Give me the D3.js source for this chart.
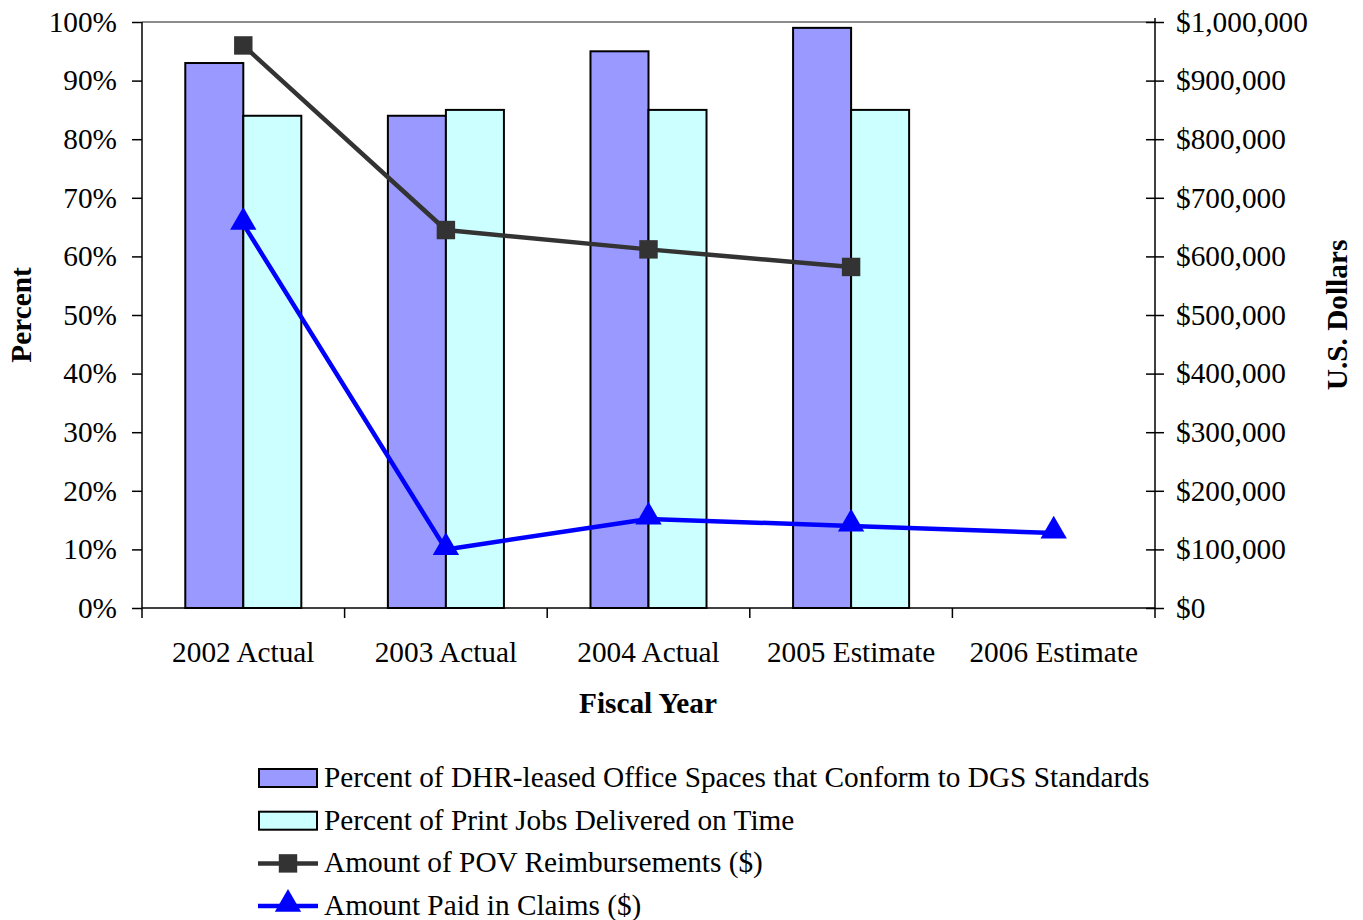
<!DOCTYPE html>
<html>
<head>
<meta charset="utf-8">
<script src="https://cdn.jsdelivr.net/npm/d3@7"></script>
<style>
  html, body { margin: 0; padding: 0; background: #fff; }
  svg { display: block; }
  svg text { font-family: "Liberation Serif", "Times New Roman", serif; }
</style>
</head>
<body>
<svg id="chart" width="1363" height="920"></svg>
<script>
// Fiscal years on the category axis
const categories = ["2002 Actual", "2003 Actual", "2004 Actual", "2005 Estimate", "2006 Estimate"];

// Percent series (left axis); null = no bar
const officeSpaces = [93, 84, 95, 99, null];
const printJobs = [84, 85, 85, 85, null];

// Dollar series (right axis); null = no point
const povReimbursements = [960000, 645000, 612000, 582000, null];
const claimsPaid = [655000, 100000, 152000, 140000, 128000];

const percentTicks = [0, 10, 20, 30, 40, 50, 60, 70, 80, 90, 100];
const dollarTicks = [0, 100000, 200000, 300000, 400000, 500000, 600000, 700000, 800000, 900000, 1000000];

const seriesNames = [
  "Percent of DHR-leased Office Spaces that Conform to DGS Standards",
  "Percent of Print Jobs Delivered on Time",
  "Amount of POV Reimbursements ($)",
  "Amount Paid in Claims ($)"
];

const colors = { office: "#9999FF", print: "#CCFFFF", pov: "#333333", claims: "#0000FF" };
const FS = 29.3;

const svg = d3.select("#chart");
const plot = { left: 142, right: 1155, top: 22, bottom: 608 };

const x = d3.scaleBand().domain(categories).range([plot.left, plot.right]);
const yPct = d3.scaleLinear().domain([0, 100]).range([plot.bottom, plot.top]);
const yUsd = d3.scaleLinear().domain([0, 1000000]).range([plot.bottom, plot.top]);

// Inner band for the two bars of each group
const inner = d3.scaleBand().domain(["office", "print"])
  .range([0, x.bandwidth()]).paddingOuter(0.746);

// Top border of the plot area
svg.append("line")
  .attr("x1", plot.left).attr("x2", plot.right)
  .attr("y1", plot.top).attr("y2", plot.top)
  .attr("stroke", "#8c8c8c").attr("stroke-width", 2);

// Bars
const barSeries = [
  { key: "office", values: officeSpaces },
  { key: "print", values: printJobs }
];
barSeries.forEach(s => {
  svg.append("g").selectAll("rect")
    .data(categories.map((c, i) => ({ c, v: s.values[i] })).filter(d => d.v != null))
    .join("rect")
    .attr("x", d => x(d.c) + inner(s.key))
    .attr("width", inner.bandwidth())
    .attr("y", d => yPct(d.v))
    .attr("height", d => yPct(0) - yPct(d.v))
    .attr("fill", colors[s.key])
    .attr("stroke", "#000").attr("stroke-width", 2);
});

const fmtPct = d => d + "%";
const fmtUsd = d => "$" + d3.format(",")(d);

// Left axis
const gL = svg.append("g").attr("transform", `translate(${plot.left},0)`)
  .call(d3.axisLeft(yPct).tickValues(percentTicks).tickFormat(fmtPct).tickSize(10).tickPadding(15).tickSizeOuter(0));
gL.attr("font-family", null);
gL.select(".domain").remove();
gL.append("line").attr("x1", 0).attr("x2", 0).attr("y1", plot.top).attr("y2", plot.bottom + 10)
  .attr("stroke", "#000").attr("stroke-width", 1.5);
gL.selectAll(".tick line").attr("stroke", "#000").attr("stroke-width", 1.5);
gL.selectAll(".tick text").attr("font-size", FS).attr("fill", "#000");

// Right axis (ticks cross the axis line)
const gR = svg.append("g").attr("transform", `translate(${plot.right},0)`)
  .call(d3.axisRight(yUsd).tickValues(dollarTicks).tickFormat(fmtUsd).tickSize(9).tickPadding(12).tickSizeOuter(0));
gR.attr("font-family", null);
gR.select(".domain").remove();
gR.append("line").attr("x1", 0).attr("x2", 0).attr("y1", plot.top - 4).attr("y2", plot.bottom + 10)
  .attr("stroke", "#000").attr("stroke-width", 1.5);
gR.selectAll(".tick line").attr("x1", -9).attr("stroke", "#000").attr("stroke-width", 1.5);
gR.selectAll(".tick text").attr("font-size", FS).attr("fill", "#000");

// Bottom axis: ticks at band boundaries
const gB = svg.append("g").attr("transform", `translate(0,${plot.bottom})`);
gB.append("line").attr("x1", plot.left).attr("x2", plot.right).attr("y1", 0).attr("y2", 0)
  .attr("stroke", "#000").attr("stroke-width", 1.5);
const boundaries = categories.slice(1).map(c => x(c));
gB.selectAll("line.b").data(boundaries).join("line").attr("class", "b")
  .attr("x1", d => d).attr("x2", d => d).attr("y1", 0).attr("y2", 10)
  .attr("stroke", "#000").attr("stroke-width", 1.5);
gB.selectAll("text").data(categories).join("text")
  .attr("x", d => x(d) + x.bandwidth() / 2).attr("y", 54)
  .attr("text-anchor", "middle").attr("font-size", FS).text(d => d);

// Lines
function drawLine(values, color, marker) {
  const pts = categories.map((c, i) => ({ c, v: values[i] })).filter(d => d.v != null);
  const line = d3.line().x(d => x(d.c) + x.bandwidth() / 2).y(d => yUsd(d.v));
  svg.append("path").datum(pts).attr("d", line)
    .attr("fill", "none").attr("stroke", color).attr("stroke-width", 4.5).attr("stroke-linejoin", "round");
  const sym = d3.symbol().type(marker === "square" ? d3.symbolSquare : d3.symbolTriangle)
    .size(marker === "square" ? 340 : 300);
  svg.append("g").selectAll("path").data(pts).join("path")
    .attr("transform", d => `translate(${x(d.c) + x.bandwidth() / 2},${yUsd(d.v) + (marker === "square" ? 0 : -2)})`)
    .attr("d", sym).attr("fill", color);
}
drawLine(povReimbursements, colors.pov, "square");
drawLine(claimsPaid, colors.claims, "triangle");

// Axis titles
svg.append("text").attr("transform", "translate(31,315) rotate(-90)")
  .attr("text-anchor", "middle").attr("font-size", FS).attr("font-weight", "bold").text("Percent");
svg.append("text").attr("transform", "translate(1347,315) rotate(-90)")
  .attr("text-anchor", "middle").attr("font-size", FS).attr("font-weight", "bold").text("U.S. Dollars");
svg.append("text").attr("x", 648).attr("y", 713)
  .attr("text-anchor", "middle").attr("font-size", FS).attr("font-weight", "bold").text("Fiscal Year");

// Legend
const legend = svg.append("g").attr("transform", "translate(258,778)");
const rowH = 42.7;
seriesNames.forEach((name, i) => {
  const g = legend.append("g").attr("transform", `translate(0,${i * rowH})`);
  if (i < 2) {
    g.append("rect").attr("x", 1).attr("y", -9).attr("width", 58).attr("height", 18)
      .attr("fill", i === 0 ? colors.office : colors.print).attr("stroke", "#000").attr("stroke-width", 2);
  } else {
    const c = i === 2 ? colors.pov : colors.claims;
    g.append("line").attr("x1", 0).attr("x2", 60).attr("y1", 0).attr("y2", 0)
      .attr("stroke", c).attr("stroke-width", 4.5);
    g.append("path").attr("transform", `translate(30,${i === 2 ? 0 : -2})`)
      .attr("d", d3.symbol().type(i === 2 ? d3.symbolSquare : d3.symbolTriangle).size(i === 2 ? 340 : 300))
      .attr("fill", c);
  }
  g.append("text").attr("x", 66).attr("y", 9).attr("font-size", FS).text(name);
});
</script>
</body>
</html>
